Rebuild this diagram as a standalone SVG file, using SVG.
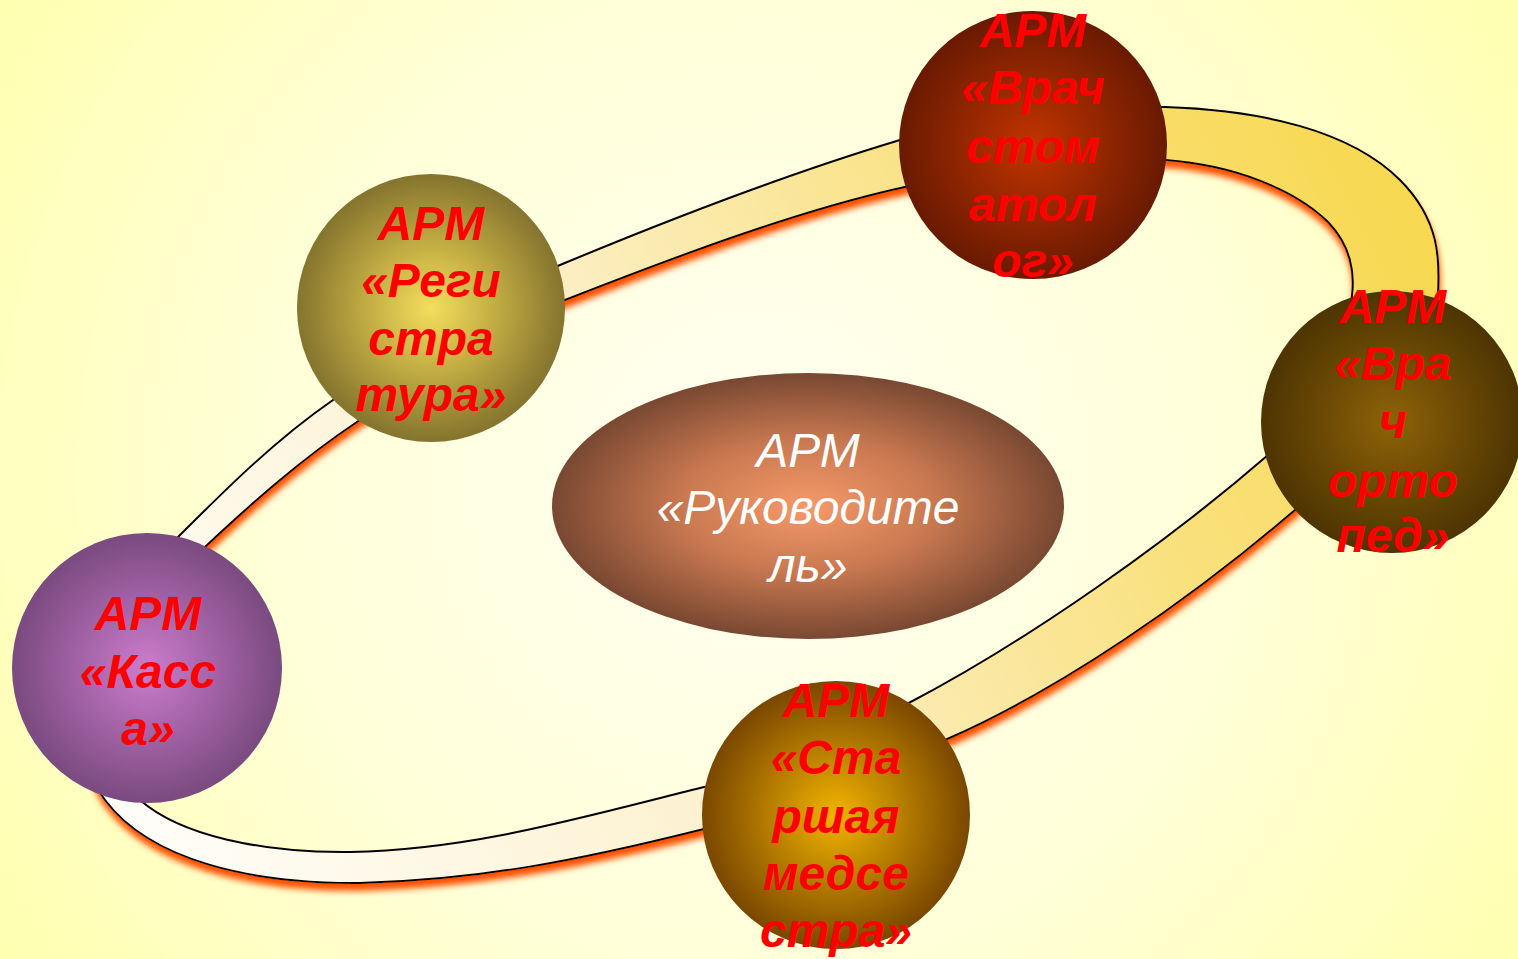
<svg xmlns="http://www.w3.org/2000/svg" width="1518" height="959" viewBox="0 0 1518 959">
<defs>
  <radialGradient id="bg" cx="760" cy="480" r="900" gradientUnits="userSpaceOnUse">
    <stop offset="0" stop-color="#fffff2"/>
    <stop offset="0.55" stop-color="#ffffd8"/>
    <stop offset="1" stop-color="#ffffb0"/>
  </radialGradient>
  <linearGradient id="band" x1="150" y1="860" x2="1420" y2="200" gradientUnits="userSpaceOnUse">
    <stop offset="0" stop-color="#fffdf8"/>
    <stop offset="0.4" stop-color="#fcf0cc"/>
    <stop offset="0.75" stop-color="#f9e07a"/>
    <stop offset="1" stop-color="#f8d850"/>
  </linearGradient>
  <filter id="glow" x="-5%" y="-5%" width="110%" height="115%">
    <feGaussianBlur in="SourceAlpha" stdDeviation="3"/>
    <feOffset dx="1" dy="7" result="b"/>
    <feFlood flood-color="#ff5000"/>
    <feComposite in2="b" operator="in"/>
    <feMerge><feMergeNode/><feMergeNode in="SourceGraphic"/></feMerge>
  </filter>
  <radialGradient id="gReg"><stop offset="0" stop-color="#f4de5c"/><stop offset="0.5" stop-color="#c0aa42"/><stop offset="1" stop-color="#84742e"/></radialGradient>
  <radialGradient id="gStom"><stop offset="0" stop-color="#c23400"/><stop offset="1" stop-color="#691a02"/></radialGradient>
  <radialGradient id="gOrt"><stop offset="0" stop-color="#8e6208"/><stop offset="1" stop-color="#4d3402"/></radialGradient>
  <radialGradient id="gStar"><stop offset="0" stop-color="#f2b400"/><stop offset="1" stop-color="#7a4700"/></radialGradient>
  <radialGradient id="gKas"><stop offset="0" stop-color="#cc7ccc"/><stop offset="1" stop-color="#7a4a80"/></radialGradient>
  <radialGradient id="gRuk"><stop offset="0" stop-color="#f7996a"/><stop offset="0.5" stop-color="#c87850"/><stop offset="1" stop-color="#794832"/></radialGradient>
  <style>
    .lbl{font-family:"Liberation Sans",Arial,sans-serif;font-weight:bold;font-style:italic;font-size:48px;fill:#ff0000;text-anchor:middle}
    .wlbl{font-family:"Liberation Sans",Arial,sans-serif;font-style:italic;font-size:48px;fill:#ffffff;text-anchor:middle}
  </style>
</defs>
<rect x="0" y="0" width="1518" height="959" fill="url(#bg)"/>

<g id="connectors">
  <path filter="url(#glow)" fill="url(#band)" fill-rule="evenodd" stroke="#000" stroke-width="2" d="
    M 178,537 C 225,490 275,440 333,400 C 400,355 470,305 560,265 C 680,215 800,170 900,140 C 990,115 1080,105 1165,107
    C 1260,110 1350,130 1400,180 C 1440,220 1440,260 1438,295 C 1435,380 1360,450 1295,510
    C 1190,600 1060,690 945,740 C 870,775 790,810 700,830 C 580,860 480,880 360,883 C 250,884 150,860 105,800
    C 60,740 100,600 178,537 Z
    M 205,547 C 250,505 300,460 357,422 C 420,380 490,330 565,300 C 680,255 800,210 905,187 C 1000,165 1090,158 1165,160
    C 1235,165 1295,190 1328,222 C 1350,245 1355,270 1352,295 C 1345,370 1310,420 1268,455
    C 1170,540 1030,640 905,705 C 850,735 780,770 700,788 C 580,818 470,850 350,852 C 260,853 180,835 140,800
    C 110,770 150,600 205,547 Z"/>
</g>

<g id="node-rukovoditel">
  <ellipse cx="808" cy="506" rx="256" ry="133" fill="url(#gRuk)"/>
  <text class="wlbl"><tspan x="808" y="467">АРМ</tspan><tspan x="808" y="524">«Руководите</tspan><tspan x="808" y="582">ль»</tspan></text>
</g>

<g id="node-registratura">
  <circle cx="431" cy="308" r="134" fill="url(#gReg)"/>
  <text class="lbl"><tspan x="431" y="240">АРМ</tspan><tspan x="431" y="297">«Реги</tspan><tspan x="431" y="355">стра</tspan><tspan x="431" y="411">тура»</tspan></text>
</g>

<g id="node-stomatolog">
  <circle cx="1033" cy="145" r="134" fill="url(#gStom)"/>
  <text class="lbl"><tspan x="1033" y="47">АРМ</tspan><tspan x="1033" y="104">«Врач</tspan><tspan x="1033" y="163">стом</tspan><tspan x="1033" y="221">атол</tspan><tspan x="1033" y="277">ог»</tspan></text>
</g>

<g id="node-ortoped">
  <circle cx="1392" cy="422" r="131" fill="url(#gOrt)"/>
  <text class="lbl"><tspan x="1393" y="323">АРМ</tspan><tspan x="1393" y="380">«Вра</tspan><tspan x="1393" y="438">ч</tspan><tspan x="1393" y="497">орто</tspan><tspan x="1393" y="552">пед»</tspan></text>
</g>

<g id="node-starshaya">
  <circle cx="836" cy="815" r="134" fill="url(#gStar)"/>
  <text class="lbl"><tspan x="836" y="717">АРМ</tspan><tspan x="836" y="774">«Ста</tspan><tspan x="836" y="833">ршая</tspan><tspan x="836" y="890">медсе</tspan><tspan x="836" y="947">стра»</tspan></text>
</g>

<g id="node-kassa">
  <circle cx="147" cy="668" r="135" fill="url(#gKas)"/>
  <text class="lbl"><tspan x="148" y="630">АРМ</tspan><tspan x="148" y="688">«Касс</tspan><tspan x="148" y="745">а»</tspan></text>
</g>
</svg>
